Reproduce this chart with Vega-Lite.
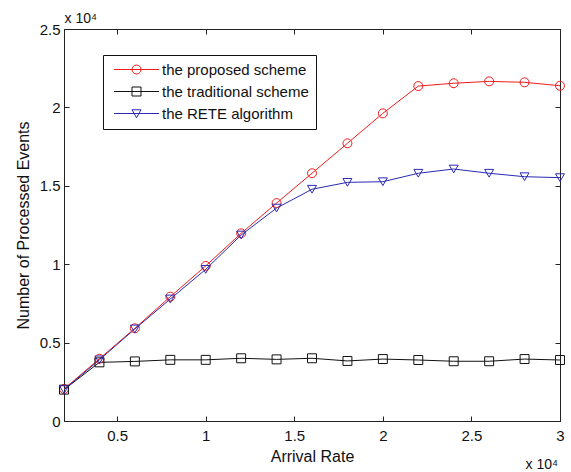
{
  "$schema": "https://vega.github.io/schema/vega-lite/v6.json",
  "autosize": "none",
  "padding": {"left": 64, "top": 29, "right": 11, "bottom": 51},
  "width": 496,
  "height": 392,
  "background": "white",
  "data": {
    "values": [
      {"rate": 2000, "events": 2040, "scheme": "the proposed scheme"},
      {"rate": 4000, "events": 3970, "scheme": "the proposed scheme"},
      {"rate": 6000, "events": 5910, "scheme": "the proposed scheme"},
      {"rate": 8000, "events": 7930, "scheme": "the proposed scheme"},
      {"rate": 10000, "events": 9890, "scheme": "the proposed scheme"},
      {"rate": 12000, "events": 11970, "scheme": "the proposed scheme"},
      {"rate": 14000, "events": 13900, "scheme": "the proposed scheme"},
      {"rate": 16000, "events": 15800, "scheme": "the proposed scheme"},
      {"rate": 18000, "events": 17710, "scheme": "the proposed scheme"},
      {"rate": 20000, "events": 19620, "scheme": "the proposed scheme"},
      {"rate": 22000, "events": 21360, "scheme": "the proposed scheme"},
      {"rate": 24000, "events": 21540, "scheme": "the proposed scheme"},
      {"rate": 26000, "events": 21660, "scheme": "the proposed scheme"},
      {"rate": 28000, "events": 21600, "scheme": "the proposed scheme"},
      {"rate": 30000, "events": 21380, "scheme": "the proposed scheme"},
      {"rate": 2000, "events": 2000, "scheme": "the traditional scheme"},
      {"rate": 4000, "events": 3740, "scheme": "the traditional scheme"},
      {"rate": 6000, "events": 3800, "scheme": "the traditional scheme"},
      {"rate": 8000, "events": 3900, "scheme": "the traditional scheme"},
      {"rate": 10000, "events": 3900, "scheme": "the traditional scheme"},
      {"rate": 12000, "events": 4000, "scheme": "the traditional scheme"},
      {"rate": 14000, "events": 3930, "scheme": "the traditional scheme"},
      {"rate": 16000, "events": 4000, "scheme": "the traditional scheme"},
      {"rate": 18000, "events": 3830, "scheme": "the traditional scheme"},
      {"rate": 20000, "events": 3950, "scheme": "the traditional scheme"},
      {"rate": 22000, "events": 3890, "scheme": "the traditional scheme"},
      {"rate": 24000, "events": 3810, "scheme": "the traditional scheme"},
      {"rate": 26000, "events": 3810, "scheme": "the traditional scheme"},
      {"rate": 28000, "events": 3950, "scheme": "the traditional scheme"},
      {"rate": 30000, "events": 3890, "scheme": "the traditional scheme"},
      {"rate": 2000, "events": 2000, "scheme": "the RETE algorithm"},
      {"rate": 4000, "events": 3900, "scheme": "the RETE algorithm"},
      {"rate": 6000, "events": 5870, "scheme": "the RETE algorithm"},
      {"rate": 8000, "events": 7780, "scheme": "the RETE algorithm"},
      {"rate": 10000, "events": 9670, "scheme": "the RETE algorithm"},
      {"rate": 12000, "events": 11860, "scheme": "the RETE algorithm"},
      {"rate": 14000, "events": 13580, "scheme": "the RETE algorithm"},
      {"rate": 16000, "events": 14780, "scheme": "the RETE algorithm"},
      {"rate": 18000, "events": 15220, "scheme": "the RETE algorithm"},
      {"rate": 20000, "events": 15260, "scheme": "the RETE algorithm"},
      {"rate": 22000, "events": 15800, "scheme": "the RETE algorithm"},
      {"rate": 24000, "events": 16070, "scheme": "the RETE algorithm"},
      {"rate": 26000, "events": 15800, "scheme": "the RETE algorithm"},
      {"rate": 28000, "events": 15580, "scheme": "the RETE algorithm"},
      {"rate": 30000, "events": 15520, "scheme": "the RETE algorithm"}
    ]
  },
  "layer": [
    {
      "mark": {"type": "line", "strokeWidth": 1},
      "encoding": {
        "x": {
          "field": "rate", "type": "quantitative",
          "scale": {"domain": [2000, 30000], "nice": false, "zero": false},
          "axis": {
            "orient": "bottom",
            "title": "Arrival Rate",
            "values": [5000, 10000, 15000, 20000, 25000, 30000],
            "labelExpr": "datum.value / 10000",
            "labelPadding": 12,
            "titlePadding": 5
          }
        },
        "y": {
          "field": "events", "type": "quantitative",
          "scale": {"domain": [0, 25000], "nice": false},
          "axis": {
            "orient": "left",
            "title": "Number of Processed Events",
            "values": [0, 5000, 10000, 15000, 20000, 25000],
            "labelExpr": "datum.value / 10000",
            "labelPadding": 9,
            "titlePadding": 8
          }
        },
        "color": {
          "field": "scheme", "type": "nominal",
          "scale": {
            "domain": ["the proposed scheme", "the traditional scheme", "the RETE algorithm"],
            "range": ["#f01c1c", "#111111", "#2a2ab4"]
          },
          "legend": {
            "title": null,
            "orient": "none",
            "legendX": 39,
            "legendY": 26,
            "strokeColor": "#111111",
            "fillColor": "white",
            "padding": 7,
            "rowPadding": 6,
            "symbolSize": 100,
            "symbolStrokeWidth": 1,
            "symbolFillColor": "transparent",
            "symbolType": {"expr": "datum.value === 'the proposed scheme' ? 'M-0.7,0H8.3M4.7,0A0.9,0.9 0 1,1 2.9,0A0.9,0.9 0 1,1 4.7,0' : datum.value === 'the traditional scheme' ? 'M-0.7,0H8.3M2.9,-0.9H4.7V0.9H2.9Z' : 'M-0.7,0H8.3M2.9,-0.75H4.7L3.8,0.85Z'"},
            "labelOffset": 37,
            "labelFont": "Liberation Sans",
            "labelFontSize": 15,
            "labelColor": "#111111"
          }
        }
      }
    },
    {
      "transform": [{"filter": "datum.scheme === 'the proposed scheme'"}],
      "mark": {"type": "point", "shape": "circle", "filled": false, "size": 80, "strokeWidth": 1, "opacity": 1, "color": "#f01c1c"},
      "encoding": {
        "x": {
          "field": "rate", "type": "quantitative",
          "axis": {
            "orient": "top",
            "labels": false,
            "values": [5000, 10000, 15000, 20000, 25000, 30000],
            "title": "x 10⁴",
            "titleAnchor": "start",
            "titleAlign": "left",
            "titleBaseline": "alphabetic",
            "titleFontSize": 14,
            "titlePadding": 6
          }
        },
        "y": {
          "field": "events", "type": "quantitative",
          "axis": {
            "orient": "right",
            "labels": false,
            "values": [0, 5000, 10000, 15000, 20000, 25000],
            "title": "x 10⁴",
            "titleAngle": 0,
            "titleAlign": "left",
            "titleBaseline": "alphabetic",
            "titleFontSize": 14,
            "titleX": -35,
            "titleY": 439
          }
        }
      }
    },
    {
      "transform": [{"filter": "datum.scheme === 'the traditional scheme'"}],
      "mark": {"type": "point", "shape": "square", "filled": false, "size": 80, "strokeWidth": 1, "opacity": 1, "color": "#111111"},
      "encoding": {
        "x": {"field": "rate", "type": "quantitative", "axis": null},
        "y": {"field": "events", "type": "quantitative", "axis": null}
      }
    },
    {
      "transform": [{"filter": "datum.scheme === 'the RETE algorithm'"}],
      "mark": {"type": "point", "shape": "triangle-down", "filled": false, "size": 80, "strokeWidth": 1, "opacity": 1, "color": "#2a2ab4"},
      "encoding": {
        "x": {"field": "rate", "type": "quantitative", "axis": null},
        "y": {"field": "events", "type": "quantitative", "axis": null}
      }
    }
  ],
  "resolve": {"axis": {"x": "independent", "y": "independent"}},
  "config": {
    "view": {"stroke": "#222222", "strokeWidth": 1},
    "font": "Liberation Sans",
    "axis": {
      "grid": false,
      "domainColor": "#222222",
      "domainWidth": 1,
      "tickColor": "#222222",
      "tickWidth": 1,
      "tickSize": -5,
      "labelFlush": false,
      "labelOverlap": false,
      "labelFont": "Liberation Sans",
      "labelFontSize": 15,
      "labelColor": "#111111",
      "titleFont": "Liberation Sans",
      "titleFontSize": 16,
      "titleFontWeight": "normal",
      "titleColor": "#111111"
    }
  }
}
